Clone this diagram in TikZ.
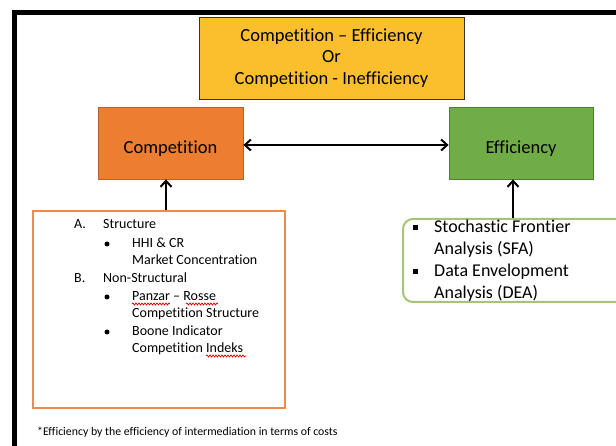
\documentclass[tikz,border=0pt]{standalone}
\usepackage{fontspec}
\setmainfont{Carlito}[Ligatures={NoCommon,NoRequired,NoContextual}]
\usetikzlibrary{arrows.meta,decorations.pathmorphing}
\definecolor{ybox}{HTML}{FBBF2D}
\definecolor{obox}{HTML}{ED7D31}
\definecolor{oline}{HTML}{B3622A}
\definecolor{gbox}{HTML}{70AD47}
\definecolor{gline}{HTML}{507E32}
\definecolor{glist}{HTML}{A5C47A}
\definecolor{olist}{HTML}{F08A4B}
\tikzset{
  titlebox/.style={draw=black!80, line width=0.8pt, fill=ybox, minimum width=265pt, minimum height=82pt, align=center, font=\fontsize{18.5}{21.5}\selectfont, inner sep=0pt},
  mainbox/.style={line width=0.8pt, minimum width=145pt, minimum height=72pt, font=\fontsize{18.5}{22}\selectfont, inner sep=0pt},
  arr/.style={line width=2pt, -{Straight Barb[length=6pt,width=11pt]}},
  darr/.style={line width=2pt, {Straight Barb[length=6pt,width=11pt]}-{Straight Barb[length=6pt,width=11pt]}},
  smalltxt/.style={anchor=west, inner sep=0pt, font=\fontsize{14}{17}\selectfont, text height=10pt, text depth=3pt},
  bigtxt/.style={anchor=west, inner sep=0pt, font=\fontsize{18}{22}\selectfont, text height=13pt, text depth=4pt},
  rbullet/.style={circle, fill=black, inner sep=0pt, minimum size=5pt},
  sbullet/.style={rectangle, fill=black, inner sep=0pt, minimum size=5pt},
  wavy/.style={red!85!black, line width=0.7pt, decorate, decoration={snake, amplitude=1pt, segment length=3pt}}
}
\begin{document}
\begin{tikzpicture}[x=1pt,y=-1pt]
\useasboundingbox (0,0) rectangle (616,446);
\clip (0,0) rectangle (616,446);
\fill[white] (0,0) rectangle (616,446);
% outer frame
\draw[line width=5pt, black, line join=miter] (14.5,470) -- (14.5,13) -- (640,13);

% main boxes
\node[titlebox] (title) at (331.5,58) {Competition – Efficiency\\Or\\Competition - Inefficiency};
\node[mainbox, draw=oline, fill=obox] (comp) at (170.5,143) {\raisebox{-6pt}[\height][\depth]{Competition}};
\node[mainbox, draw=gline, fill=gbox, minimum width=144pt] (eff) at (521,143) {\raisebox{-6pt}[\height][\depth]{Efficiency}};

% list boxes
\node[draw=olist, line width=1.3pt, minimum width=252pt, minimum height=197pt, inner sep=0pt] (listA) at (159,309.5) {};
\node[draw=glist, line width=2pt, rounded corners=10pt, minimum width=227pt, minimum height=83pt, inner sep=0pt] (listB) at (516.5,260.5) {};

% connectors
\draw[darr] ([yshift=-2pt]comp.east) -- ([yshift=-2pt]eff.west);
\coordinate (a1) at (166,0);
\coordinate (a2) at (513,0);
\draw[arr] (listA.north -| a1) -- (comp.south -| a1);
\draw[arr] (listB.north -| a2) -- (eff.south -| a2);

% left list
\node[smalltxt] (la) at (74,225) {A.};
\node[smalltxt] (lat) at (103,225) {Structure};
\node[rbullet] (b1) at (107,244) {};
\node[smalltxt] (l1) at (132,244) {HHI \& CR};
\node[smalltxt] (l2) at (132,261) {Market Concentration};
\node[smalltxt] (lb) at (74,279) {B.};
\node[smalltxt] (lbt) at (103,279) {Non-Structural};
\node[rbullet] (b2) at (107,297) {};
\node[smalltxt] (l3) at (132,297) {Panzar – Rosse};
\node[smalltxt] (l4) at (132,314) {Competition Structure};
\node[rbullet] (b3) at (107,332) {};
\node[smalltxt] (l5) at (132,332) {Boone Indicator};
\node[smalltxt] (l6) at (132,349) {Competition Indeks};
\draw[wavy] (132,304) -- (170,304);
\draw[wavy] (186,304) -- (218,304);
\draw[wavy] (206,356) -- (246,356);

% right list
\node[sbullet] (s1) at (415,228) {};
\node[bigtxt] (r1) at (434,228) {Stochastic Frontier};
\node[bigtxt] (r2) at (434,250) {Analysis (SFA)};
\node[sbullet] (s2) at (415,272) {};
\node[bigtxt] (r3) at (434,272) {Data Envelopment};
\node[bigtxt] (r4) at (434,294) {Analysis (DEA)};

% footnote
\node[anchor=west, inner sep=0pt, font=\fontsize{11.8}{14}\selectfont, text height=8.5pt, text depth=2.5pt] (foot) at (37,432) {*Efficiency by the efficiency of intermediation in terms of costs};
\end{tikzpicture}
\end{document}
